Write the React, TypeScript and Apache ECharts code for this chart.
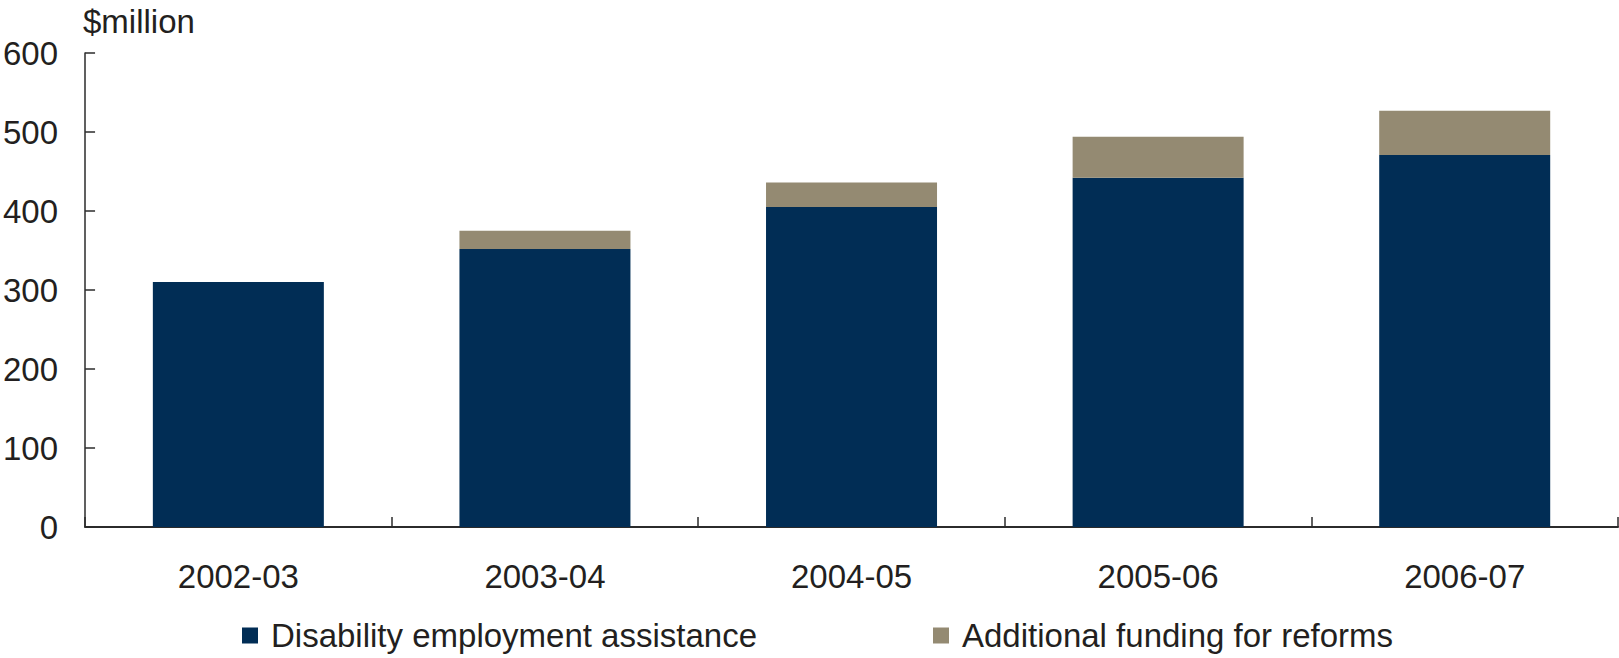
import React, { useEffect, useRef } from "react";
import * as echarts from "echarts";

const categories = ["2002-03", "2003-04", "2004-05", "2005-06", "2006-07"];
const disabilityAssistance = [310, 352, 405, 442, 471];
const additionalFunding = [0, 23, 31, 52, 56];
const yTicks = { min: 0, max: 600, interval: 100 };

const FONT = "'Liberation Sans', Arial, Helvetica, sans-serif";
const TEXT = "#231f20";
const AXIS = "#2b2b2b";
const NAVY = "#012d55";
const TAN = "#948a72";
const FS = 33;

export default function App() {
  const ref = useRef<HTMLDivElement>(null);
  useEffect(() => {
    if (!ref.current) return;
    const chart = echarts.init(ref.current, undefined, { renderer: "svg" });
    chart.setOption({
      animation: false,
      backgroundColor: "#ffffff",
      textStyle: { fontFamily: FONT },
      title: {
        text: "$million",
        left: 83,
        top: 5,
        padding: 0,
        textStyle: { fontSize: FS, fontWeight: "normal", color: TEXT, fontFamily: FONT },
      },
      legend: [
        {
          data: ["Disability employment assistance"],
          left: 242,
          top: 619,
          padding: 0,
          itemWidth: 16,
          itemHeight: 16,
          icon: "rect",
          textStyle: { fontSize: FS, color: TEXT, fontFamily: FONT, padding: [0, 0, 0, 8] },
        },
        {
          data: ["Additional funding for reforms"],
          left: 933,
          top: 619,
          padding: 0,
          itemWidth: 16,
          itemHeight: 16,
          icon: "rect",
          textStyle: { fontSize: FS, color: TEXT, fontFamily: FONT, padding: [0, 0, 0, 8] },
        },
      ],
      grid: { left: 80, right: 1, top: 53, bottom: 131, containLabel: false },
      xAxis: {
        type: "category",
        data: categories,
        axisLine: { lineStyle: { color: AXIS, width: 2 } },
        axisTick: { show: true, inside: true, length: 10, lineStyle: { color: AXIS, width: 1.5 } },
        axisLabel: { fontSize: FS, color: TEXT, margin: 33, fontFamily: FONT },
        splitLine: { show: false },
      },
      yAxis: {
        type: "value",
        min: yTicks.min,
        max: yTicks.max,
        interval: yTicks.interval,
        axisLine: { show: true, lineStyle: { color: AXIS, width: 1.5 } },
        axisTick: { show: true, inside: true, length: 10, lineStyle: { color: AXIS, width: 1.5 } },
        axisLabel: { fontSize: FS, color: TEXT, margin: 27, fontFamily: FONT },
        splitLine: { show: false },
      },
      series: [
        {
          name: "Disability employment assistance",
          type: "bar",
          stack: "total",
          data: disabilityAssistance,
          barWidth: 171,
          itemStyle: { color: NAVY },
        },
        {
          name: "Additional funding for reforms",
          type: "bar",
          stack: "total",
          data: additionalFunding,
          barWidth: 171,
          itemStyle: { color: TAN },
        },
      ],
    });
    return () => chart.dispose();
  }, []);
  return (
    <div
      ref={ref}
      style={{ position: "absolute", left: 0, top: 0, width: 1619, height: 658, background: "#fff" }}
    />
  );
}
